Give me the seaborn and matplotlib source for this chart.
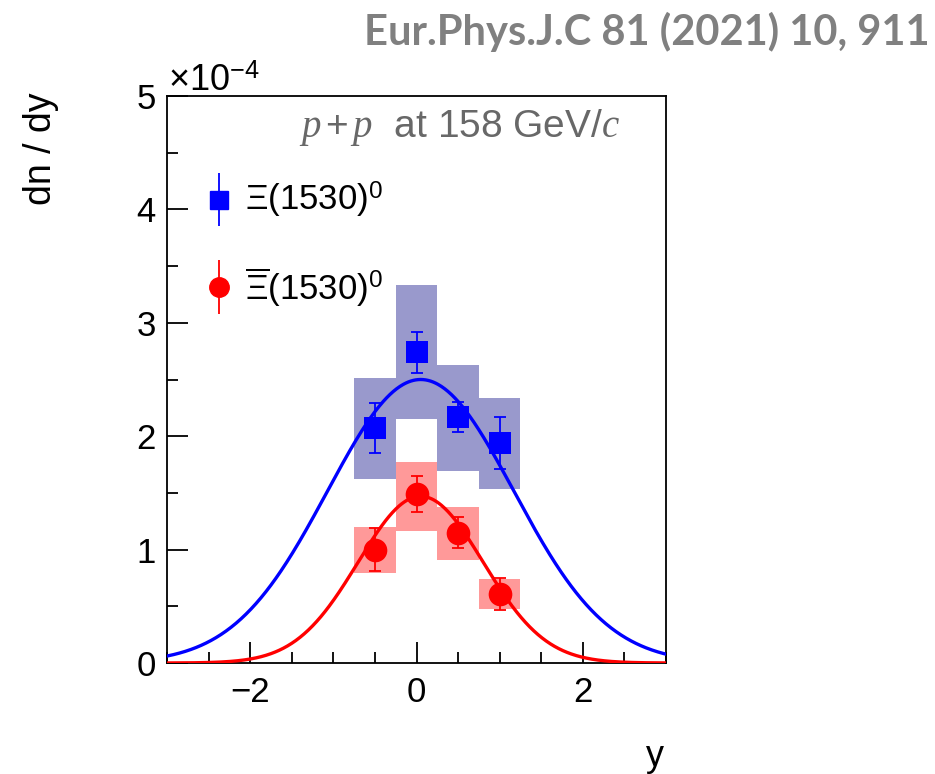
import numpy as np
import pandas as pd
import matplotlib
matplotlib.use("Agg")
import matplotlib.pyplot as plt
import seaborn as sns
from matplotlib.ticker import MultipleLocator

# Rapidity spectra of Xi(1530)^0 and anti-Xi(1530)^0 (units of 1e-4)
rapidity = [-0.5, 0.0, 0.5, 1.0]

xi_dndy = [2.07, 2.74, 2.17, 1.94]
xi_stat = [0.22, 0.18, 0.13, 0.23]
xi_sys_lo = [1.62, 2.15, 1.69, 1.53]
xi_sys_hi = [2.51, 3.33, 2.63, 2.34]

axi_dndy = [1.00, 1.49, 1.15, 0.61]
axi_stat = [0.19, 0.16, 0.14, 0.14]
axi_sys_lo = [0.79, 1.16, 0.91, 0.48]
axi_sys_hi = [1.20, 1.77, 1.38, 0.74]

# Gaussian fit parameters: amplitude, mean, sigma
xi_fit = (2.50, 0.05, 1.12)
axi_fit = (1.47, 0.05, 0.75)

bin_width = 0.5
blue, red = "#0000ff", "#ff0000"
blue_box, red_box = "#9999cc", "#ff9999"

sns.set_style("ticks")
plt.rcParams["font.family"] = ["Liberation Sans", "DejaVu Sans"]
plt.rcParams["mathtext.fontset"] = "custom"
plt.rcParams["mathtext.rm"] = "Liberation Sans"
plt.rcParams["mathtext.it"] = "Liberation Serif:italic"
plt.rcParams["mathtext.bf"] = "Liberation Sans:bold"

fig = plt.figure(figsize=(9.35, 7.74), dpi=100)
ax = fig.add_axes([167 / 935, 1 - 663 / 774, 499 / 935, 567 / 774])

# systematic uncertainty boxes
for y, lo, hi in zip(rapidity, xi_sys_lo, xi_sys_hi):
    ax.bar(y, hi - lo, bottom=lo, width=bin_width, color=blue_box, lw=0, zorder=1)
for y, lo, hi in zip(rapidity, axi_sys_lo, axi_sys_hi):
    ax.bar(y, hi - lo, bottom=lo, width=bin_width, color=red_box, lw=0, zorder=1)

# Gaussian fit curves
grid = np.linspace(-3, 3, 601)
def gauss(x, p):
    a, m, s = p
    return a * np.exp(-0.5 * ((x - m) / s) ** 2)

curves = pd.concat([
    pd.DataFrame({"y": grid, "dndy": gauss(grid, xi_fit), "species": "xi"}),
    pd.DataFrame({"y": grid, "dndy": gauss(grid, axi_fit), "species": "axi"}),
])
sns.lineplot(data=curves, x="y", y="dndy", hue="species",
             palette={"xi": blue, "axi": red}, lw=2.4, legend=False,
             ax=ax, zorder=3)

# data points with statistical errors
ax.errorbar(rapidity, xi_dndy, yerr=xi_stat, fmt="none", ecolor=blue,
            elinewidth=1.3, capsize=4, capthick=1.3, zorder=4)
ax.errorbar(rapidity, axi_dndy, yerr=axi_stat, fmt="none", ecolor=red,
            elinewidth=1.3, capsize=4, capthick=1.3, zorder=4)
pts = pd.DataFrame({"y": rapidity, "xi": xi_dndy, "axi": axi_dndy})
sns.scatterplot(data=pts, x="y", y="xi", marker="s", s=250, color=blue,
                edgecolor=blue, linewidth=0, ax=ax, zorder=5)
sns.scatterplot(data=pts, x="y", y="axi", marker="o", s=290, color=red,
                edgecolor=red, linewidth=0, ax=ax, zorder=5)

ax.set_xlim(-3, 3)
ax.set_ylim(0, 5)
ax.set_xlabel("")
ax.set_ylabel("")
ax.xaxis.set_major_locator(MultipleLocator(2))
ax.xaxis.set_minor_locator(MultipleLocator(0.5))
ax.yaxis.set_major_locator(MultipleLocator(1))
ax.yaxis.set_minor_locator(MultipleLocator(0.5))
ax.tick_params(which="both", direction="in", top=False, right=False,
               width=1.3, color="black", labelsize=25, labelcolor="black")
ax.tick_params(which="major", length=15, pad=9)
ax.tick_params(which="minor", length=8)
ax.tick_params(axis="y", pad=8)
ax.set_yticks([0, 1, 2, 3, 4, 5])
ax.set_yticklabels(["0", "1", "2", "3", "4", "5"])
for sp in ax.spines.values():
    sp.set_visible(True)
    sp.set_color("black")
    sp.set_linewidth(1.3)

# legend
ax.errorbar([0.104], [0.817], yerr=[0.047], transform=ax.transAxes, fmt="s",
            color=blue, ms=13, elinewidth=1.3, capsize=0, clip_on=False)
ax.errorbar([0.104], [0.663], yerr=[0.047], transform=ax.transAxes, fmt="o",
            color=red, ms=14, elinewidth=1.3, capsize=0, clip_on=False)
ax.text(0.156, 0.817, r"$\Xi$(1530)$^{0}$", transform=ax.transAxes,
        fontsize=25, va="center", ha="left", color="black")
ax.text(0.156, 0.663, r"$\overline{\Xi}$(1530)$^{0}$", transform=ax.transAxes,
        fontsize=25, va="center", ha="left", color="black")

ax.text(0.908, 0.944, r"$p\/$+$\/p$  at 158 GeV/$c$", transform=ax.transAxes,
        fontsize=28, va="center", ha="right", color="#686868")

fig.text(168 / 935, 1 - 91 / 774, r"$\times$10$^{-4}$", fontsize=26,
         ha="left", va="baseline", color="black")
fig.text(41 / 935, 1 - 149 / 774, "dn / dy", rotation=90, fontsize=27,
         ha="center", va="center", color="black")
fig.text(655 / 935, 1 - 757 / 774, "y", fontsize=26,
         ha="center", va="center", color="black")
fig.text(930 / 935, 1 - 32 / 774, "Eur.Phys.J.C 81 (2021) 10, 911",
         fontsize=30, fontweight="bold", family=["Lato", "DejaVu Sans"],
         ha="right", va="center", color="#808080")

fig.savefig("out.png", dpi=100)
